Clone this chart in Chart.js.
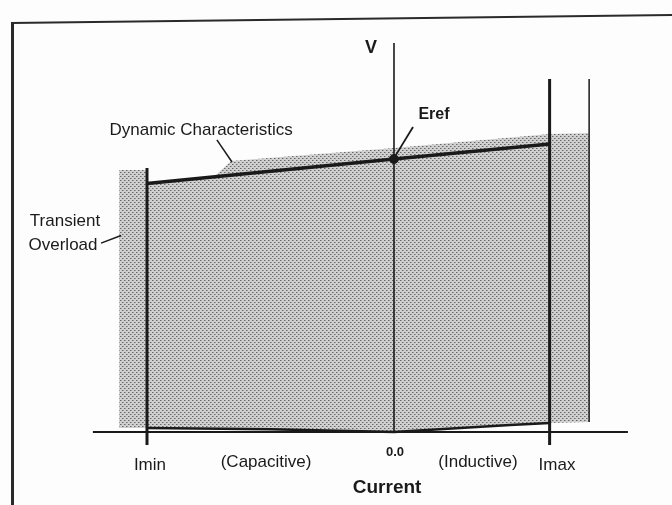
<!DOCTYPE html>
<html><head><meta charset="utf-8">
<script src="https://cdn.jsdelivr.net/npm/chart.js@4"></script>
<style>html,body{margin:0;padding:0;background:#fff;overflow:hidden}#wrap{position:relative;width:672px;height:505px}</style>
</head><body><div id="wrap"><canvas id="c" width="672" height="505"></canvas></div>
<script>
// ---- data (current in p.u. of |Imin|, voltage in p.u. of Eref) ----
const dynCurrent = [-1.0, 0.0, 0.63];
const dynVoltage = [0.91, 1.0, 1.055];
const erefCurrent = [0.0];
const erefVoltage = [1.0];
const iminCurrent = [-1.0, -1.0];
const iminVoltage = [-0.048, 0.967];
const imaxCurrent = [0.63, 0.63];
const imaxVoltage = [-0.048, 1.293];
const overloadCurrent = [0.79, 0.79];
const overloadVoltage = [0.037, 1.293];
const bottomCurrent = [-1.0, -0.5, 0.0, 0.47, 0.63];
const bottomVoltage = [0.015, 0.01, 0.0, 0.026, 0.033];
const shadeCurrent = [-1.113, -1.0, -1.0, -0.725, -0.66, 0.0, 0.63, 0.79, 0.79, 0.63, 0.47, 0.0, -1.0, -1.113];
const shadeVoltage = [0.96, 0.96, 0.912, 0.938, 0.993, 1.04, 1.092, 1.095, 0.037, 0.033, 0.026, 0.0, 0.015, 0.015];
const xAxisCurrent = [-1.219, 0.947];
const xAxisVoltage = [0, 0];
const vAxisCurrent = [0, 0];
const vAxisVoltage = [0, 1.425];
const leaderDynCurrent = [-0.717, -0.656];
const leaderDynVoltage = [1.07, 0.989];
const leaderErefCurrent = [0.077, 0.008];
const leaderErefVoltage = [1.117, 1.015];
const leaderOvlCurrent = [-1.186, -1.105];
const leaderOvlVoltage = [0.692, 0.72];
// tick labels
const xTickLabels = ['Imin', '(Capacitive)', '0.0', '(Inductive)', 'Imax'];
const xTickCurrent = [-0.988, -0.518, 0.004, 0.34, 0.66];
// annotations
const noteTexts = ['V', 'Eref', 'Dynamic Characteristics', 'Transient', 'Overload', 'Current'];
const noteCurrent = [-0.093, 0.162, -0.781, -1.332, -1.34, -0.028];
const noteVoltage = [1.407, 1.161, 1.106, 0.773, 0.685, -0.205];

function pts(xs, ys) { return xs.map((x, i) => ({x: x, y: ys[i]})); }

// stipple pattern
const tile = document.createElement('canvas');
tile.width = 4; tile.height = 4;
const tc = tile.getContext('2d');
tc.fillStyle = '#d0d0d0'; tc.fillRect(0, 0, 4, 4);
tc.fillStyle = '#666666'; tc.fillRect(0, 0, 1, 1); tc.fillRect(2, 2, 1, 1);
tc.fillStyle = '#9c9c9c'; tc.fillRect(1, 0, 1, 1); tc.fillRect(3, 2, 1, 1);
const ctx0 = document.getElementById('c').getContext('2d');
const stipple = ctx0.createPattern(tile, 'repeat');

const black = '#1a1a1a';
function lineDs(xs, ys, w, order) {
  return {data: pts(xs, ys), showLine: true, borderColor: black, borderWidth: w,
    pointRadius: 0, fill: false, tension: 0, order: order || 0, borderCapStyle: 'butt'};
}

const framePlugin = {
  id: 'frame',
  beforeDraw(chart) {
    const c = chart.ctx;
    c.save();
    c.fillStyle = '#fdfdfd'; c.fillRect(0, 0, chart.width, chart.height);
    c.strokeStyle = '#2a2a2a';
    c.lineWidth = 2.2;
    c.beginPath(); c.moveTo(11, 23); c.lineTo(672, 15); c.stroke();
    c.lineWidth = 3;
    c.beginPath(); c.moveTo(12.5, 22); c.lineTo(12.5, 505); c.stroke();
    c.restore();
  }
};

const textPlugin = {
  id: 'texts',
  afterDatasetsDraw(chart) {
    const c = chart.ctx, xs = chart.scales.x, ys = chart.scales.y;
    c.save();
    c.fillStyle = black;
    c.textAlign = 'center';
    c.textBaseline = 'middle';
    const fonts = ['bold 18px "Liberation Sans"', 'bold 16px "Liberation Sans"', '17px "Liberation Sans"',
      '17px "Liberation Sans"', '17px "Liberation Sans"', 'bold 19px "Liberation Sans"'];
    noteTexts.forEach((t, i) => {
      c.font = fonts[i];
      c.fillText(t, xs.getPixelForValue(noteCurrent[i]), ys.getPixelForValue(noteVoltage[i]));
    });
    xTickLabels.forEach((t, i) => {
      c.font = t === '0.0' ? 'bold 13px "Liberation Sans"' : '17px "Liberation Sans"';
      const v = t === '0.0' ? -0.073 : (t === 'Imin' || t === 'Imax' ? -0.123 : -0.11);
      c.fillText(t, xs.getPixelForValue(xTickCurrent[i]), ys.getPixelForValue(v));
    });
    c.restore();
  }
};

new Chart(ctx0, {
  type: 'scatter',
  data: {
    datasets: [
      {data: pts(shadeCurrent, shadeVoltage), showLine: true, borderWidth: 0, borderColor: 'rgba(0,0,0,0)',
        backgroundColor: stipple, fill: 'shape', pointRadius: 0, tension: 0, order: 10},
      lineDs(xAxisCurrent, xAxisVoltage, 2),
      lineDs(vAxisCurrent, vAxisVoltage, 1.6),
      lineDs(iminCurrent, iminVoltage, 3),
      lineDs(imaxCurrent, imaxVoltage, 3),
      lineDs(overloadCurrent, overloadVoltage, 1.5),
      lineDs(bottomCurrent, bottomVoltage, 2.5),
      lineDs(dynCurrent, dynVoltage, 3.5),
      lineDs(leaderDynCurrent, leaderDynVoltage, 1.5),
      lineDs(leaderErefCurrent, leaderErefVoltage, 1.8),
      lineDs(leaderOvlCurrent, leaderOvlVoltage, 1.5),
      {data: pts(erefCurrent, erefVoltage), pointRadius: 4.5, pointBackgroundColor: black,
        pointBorderColor: black, showLine: false, order: -1}
    ]
  },
  options: {
    responsive: false,
    animation: false,
    events: [],
    layout: {padding: 0, autoPadding: false},
    plugins: {legend: {display: false}, tooltip: {enabled: false}},
    scales: {
      x: {type: 'linear', display: false, min: -1.5951, max: 1.1255},
      y: {type: 'linear', display: false, min: -0.2674, max: 1.5824}
    }
  },
  plugins: [framePlugin, textPlugin]
});
</script>
</body></html>
